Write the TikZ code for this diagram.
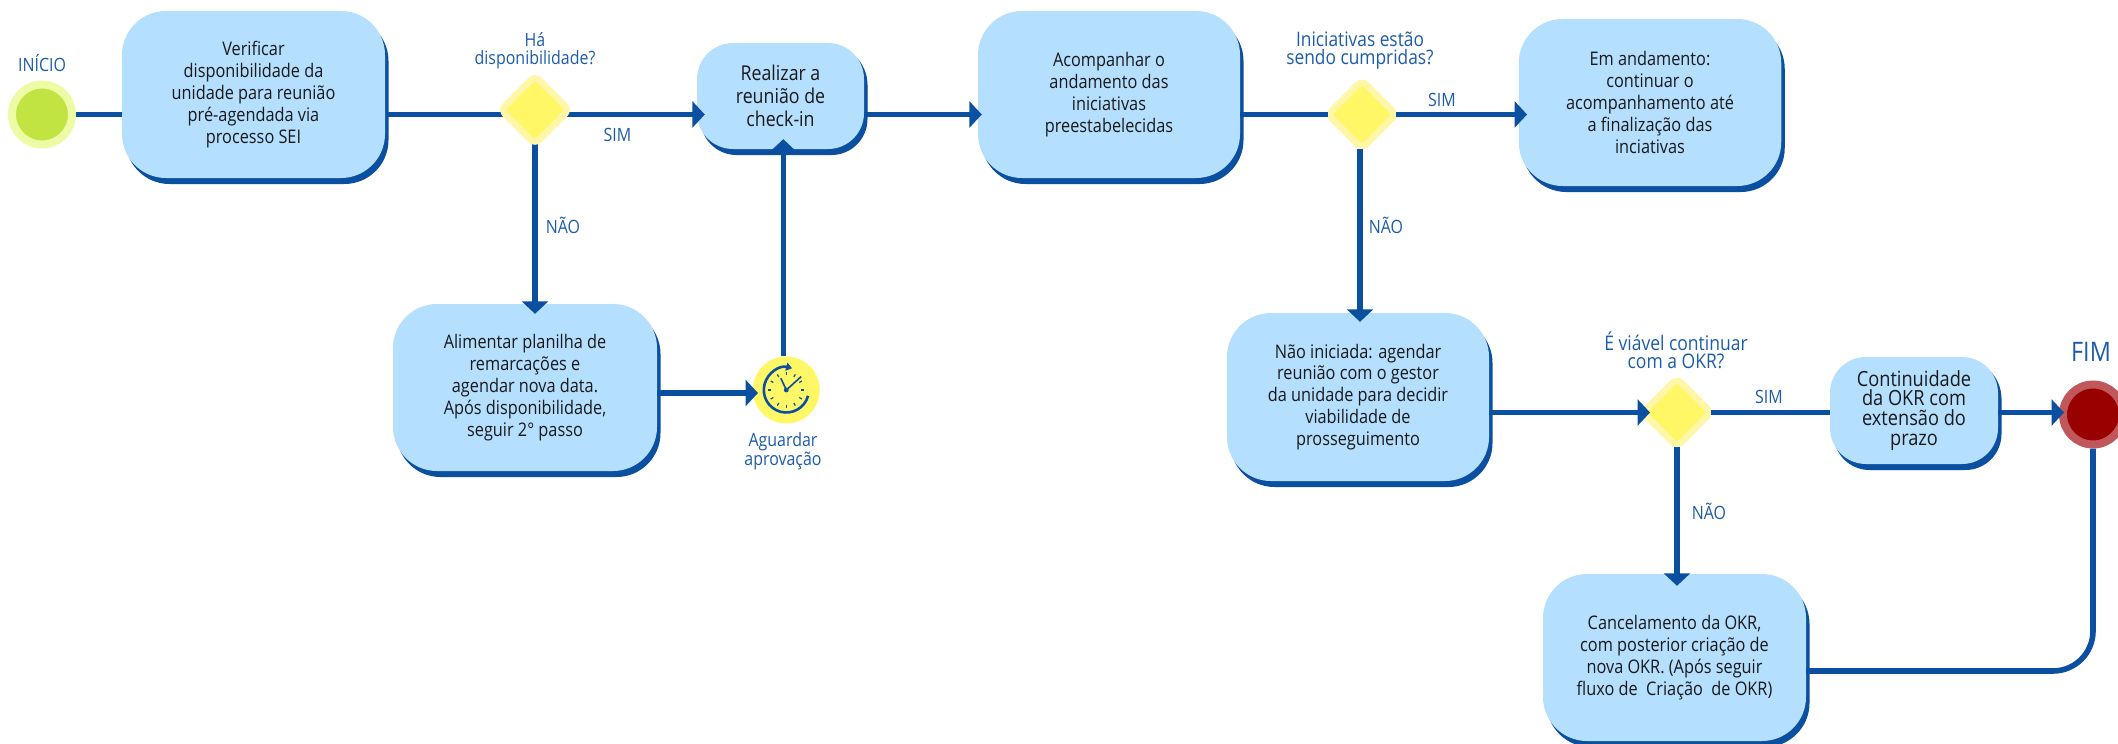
\documentclass[tikz,border=0pt]{standalone}
\usepackage{fontspec}
\setmainfont[FakeStretch=0.87]{Open Sans}
\usetikzlibrary{shapes.geometric,shadows,arrows.meta}
\definecolor{flow}{HTML}{0A4FA0}
\definecolor{boxfill}{HTML}{B5DFFE}
\definecolor{labelblue}{HTML}{1C5CA9}
\definecolor{inktext}{HTML}{1A1A1A}
\definecolor{dia}{HTML}{FFF765}
\definecolor{diaedge}{HTML}{FFF6A8}
\definecolor{startin}{HTML}{C1E443}
\definecolor{startout}{HTML}{EDFBA5}
\definecolor{endin}{HTML}{990000}
\definecolor{endout}{HTML}{C0575A}
\tikzset{
  flowbox/.style={rectangle,fill=boxfill,rounded corners=44bp,inner sep=0pt,align=center,text=inktext,
    font=\fontsize{18.8}{22}\selectfont,
    copy shadow={shadow xshift=3.5bp,shadow yshift=-6bp,fill=flow,draw=none}},
  smallbox/.style={flowbox,rounded corners=36bp,font=\fontsize{20.5}{23}\selectfont,
    copy shadow={shadow xshift=3bp,shadow yshift=-4bp,fill=flow,draw=none}},
  textdown/.style={execute at begin node={\rule{0pt}{#1}}},
  decision/.style={diamond,fill=dia,draw=diaedge,line width=6.5bp,rounded corners=6bp,inner sep=0pt,outer sep=0pt,
    minimum width=68bp,minimum height=68bp},
  lab/.style={text=labelblue,align=center,inner sep=0pt,font=\fontsize{18.4}{17.5}\selectfont},
  conn/.style={draw=flow,line width=5.6bp},
  arr/.style={conn,-{Triangle[length=12.5bp,width=26bp]}},
}
\begin{document}
\begin{tikzpicture}[x=1bp,y=-1bp]
\useasboundingbox (0,0) rectangle (2118,744);
% start / end
\node[circle,fill=startin,draw=startout,line width=8bp,minimum size=60bp,inner sep=0pt] (start) at (42,114.5) {};
\node[circle,fill=endin,draw=endout,line width=8bp,minimum size=60bp,inner sep=0pt] (end) at (2093,414.5) {};
% boxes
\node[flowbox,textdown=19.5bp,minimum width=263bp,minimum height=167bp] (verif) at (253.5,94.5) {Verificar\\disponibilidade da\\unidade para reunião\\pré-agendada via\\processo SEI};
\node[smallbox,minimum width=167bp,minimum height=106bp] (check) at (780.5,96) {Realizar a\\reunião de\\check-in};
\node[flowbox,textdown=21.5bp,minimum width=262bp,minimum height=167bp] (acomp) at (1109,94.5) {Acompanhar o\\andamento das\\iniciativas\\preestabelecidas};
\node[flowbox,textdown=19.5bp,minimum width=262.5bp,minimum height=167bp] (anda) at (1650,102.5) {Em andamento:\\continuar o\\acompanhamento até\\a finalização das\\inciativas};
\node[flowbox,textdown=19bp,minimum width=264bp,minimum height=167bp] (alim) at (525,387.5) {Alimentar planilha de\\remarcações e\\agendar nova data.\\Após disponibilidade,\\seguir 2° passo};
\node[flowbox,textdown=19bp,minimum width=262bp,minimum height=168bp] (naoin) at (1358,397) {Não iniciada: agendar\\reunião com o gestor\\da unidade para decidir\\viabilidade de\\prosseguimento};
\node[smallbox,textdown=24bp,font=\fontsize{21}{20}\selectfont,minimum width=168bp,minimum height=107bp] (cont) at (1914,410.5) {Continuidade\\da OKR com\\extensão do\\prazo};
\node[flowbox,minimum width=263bp,minimum height=167bp] (canc) at (1674.5,657.5) {Cancelamento da OKR,\\com posterior criação de\\nova OKR. (Após seguir\\fluxo de\ \ Criação\ \ de OKR)};
% decisions
\node[decision] (d1) at (535,110) {};
\node[decision] (d2) at (1362,114.5) {};
\node[decision] (d3) at (1677,412.5) {};
% clock
\node[circle,fill=dia,minimum size=67bp,inner sep=0pt] (clock) at (786.3,390) {};
% connectors
\draw[conn] (start.east) -- (verif.west |- start.east);
\draw[conn] ([xshift=3bp]verif.east |- start.east) -- (d1.center |- start.east);
\draw[arr] (d1.center |- start.east) -- ([xshift=8bp]check.west |- start.east);
\draw[arr] (check.east |- start.east) -- ([xshift=4bp]acomp.west |- start.east);
\draw[conn] (acomp.east |- start.east) -- (d2.west);
\draw[arr] (d2.east) -- ([xshift=8.5bp]anda.west |- d2.east);
\draw[arr] (d1.south) -- ([yshift=-10bp]d1.south |- alim.north);
\draw[arr] ([xshift=-2bp]d2.south) -- ([xshift=-2bp,yshift=-9bp]d2.south |- naoin.north);
\draw[arr] (alim.east |- clock.center) ++(0,3) -- ([yshift=-3bp,xshift=-62bp]clock.east |- clock.center);
\draw[arr] ([xshift=-3bp]clock.north) -- ([xshift=-3bp,yshift=10bp]clock.north |- check.south);
\draw[arr] (naoin.east |- d3.west) -- ([xshift=7bp]d3.west);
\draw[conn] (d3.east) -- (cont.west |- d3.east);
\draw[arr] (cont.east |- d3.east) -- ([xshift=5bp]end.west |- d3.east);
\draw[arr] (d3.south) -- ([yshift=-12bp]d3.south |- canc.north);
\draw[conn,rounded corners=40bp] (end.south) |- ([yshift=-13.5bp]canc.east);
% redraw the first decision over its through-line
\node[decision] at (d1.center) {};
% clock face
\draw[flow,line width=2.6bp,-{Triangle[length=6bp,width=8bp]}] (clock.center) ++(-15:22.5bp) arc[start angle=-15,end angle=-285,radius=22.5bp];
\foreach \a in {0,30,...,330}{\draw[flow,line width=1.2bp] (clock.center) ++(\a:15bp) -- ++(\a:3bp);}
\draw[flow,line width=1.6bp] (clock.center) -- ++(115:13bp);
\draw[flow,line width=1.6bp] (clock.center) -- ++(42:20bp);
\fill[flow] (clock.center) circle[radius=2.4bp];
% labels
\node[lab] (linicio) at (42,63) {INÍCIO};
\node[lab] (lfim) at (2091,352) {\fontsize{27}{27}\selectfont FIM};
\node[lab] (lq1) at (535,50.5) {Há\\disponibilidade?};
\node[lab,font=\fontsize{20}{17.5}\selectfont] (lq2) at (1360,50.5) {Iniciativas estão\\sendo cumpridas?};
\node[lab,font=\fontsize{20.2}{18}\selectfont] (lq3) at (1676,350) {É viável continuar\\com a OKR?};
\node[lab] (lsim1) at (617.5,135) {SIM};
\node[lab] (lnao1) at (563,225) {NÃO};
\node[lab] (lsim2) at (1442,100) {SIM};
\node[lab] (lnao2) at (1386,225) {NÃO};
\node[lab] (lsim3) at (1769,397) {SIM};
\node[lab] (lnao3) at (1709,511) {NÃO};
\node[lab] (lwait) at (783,451) {Aguardar\\aprovação};
\end{tikzpicture}
\end{document}
